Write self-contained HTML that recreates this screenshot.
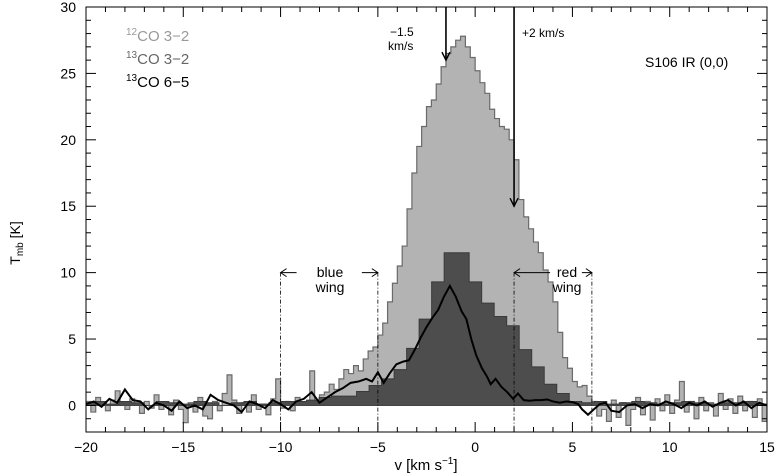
<!DOCTYPE html>
<html><head><meta charset="utf-8"><style>
body{margin:0;background:#fff}
svg{display:block;font-family:"Liberation Sans",sans-serif}
</style></head><body>
<svg id="chart" width="777" height="476" viewBox="0 0 777 476" xmlns="http://www.w3.org/2000/svg">
<g id="marks"></g>
<g id="axes"></g>
<text transform="translate(20,243) rotate(-90)" font-size="14" text-anchor="middle" fill="#000">T<tspan font-size="10" dy="3">mb</tspan><tspan dy="-3"> [K]</tspan></text>
<text x="426" y="470" font-size="15" text-anchor="middle">v  [km  s<tspan font-size="10" dy="-6">−1</tspan><tspan dy="6">]</tspan></text>
<g font-size="15">
<text x="126" y="41" fill="#999"><tspan font-size="10" dy="-6">12</tspan><tspan dy="6">CO 3−2</tspan></text>
<text x="126" y="64" fill="#666"><tspan font-size="10" dy="-6">13</tspan><tspan dy="6">CO 3−2</tspan></text>
<text x="126" y="87" fill="#000"><tspan font-size="10" dy="-6">13</tspan><tspan dy="6">CO 6−5</tspan></text>
</g>
<text x="645" y="67" font-size="14" fill="#000">S106 IR (0,0)</text>
<text x="390" y="36" font-size="12">−1.5</text>
<text x="388" y="50" font-size="12">km/s</text>
<text x="522" y="37" font-size="12">+2 km/s</text>
<text x="330" y="277" font-size="14" text-anchor="middle">blue</text>
<text x="330" y="292" font-size="14" text-anchor="middle">wing</text>
<text x="567" y="277" font-size="14" text-anchor="middle">red</text>
<text x="567" y="292" font-size="14" text-anchor="middle">wing</text>
</svg>
<script>
const co12Start=-20, co12Width=0.25;
const co12Values=[0.3,-0.5,0.6,0.1,-0.4,0.4,1.1,0.2,-0.3,0.5,0.1,-0.6,0.3,-0.2,0.8,-0.3,0.2,-0.7,0.4,-0.3,-1.3,0.2,-0.5,0.6,-0.8,-1.0,0.3,-0.4,0.9,2.3,0.4,-0.6,0.2,-0.5,0.8,-0.3,0.1,-0.7,0.5,2.0,-0.2,0.3,-0.4,0.6,0.2,0.3,2.6,0.4,
0.8,1.0,1.6,1.2,2.0,2.7,2.4,3.0,2.6,3.5,4.1,4.4,5.3,6.2,7.8,9.2,10.5,12,14.8,17.5,19.5,21,22.5,23,24.2,25.5,26.5,27,27.5,27.8,27,26.2,25.2,24.3,23.5,22.3,21.6,21,20.8,20,18.5,15.5,14.2,13.3,12.3,11.5,10.2,9.3,7.8,5.5,3.6,2.8,1.8,1.4,1.5,0.7,0.3,
-0.8,-0.3,-1.2,0.4,-0.9,0.2,-1.5,-0.3,0.6,-0.7,0.3,-1.1,0.5,-0.4,0.8,-0.6,0.4,1.8,-0.5,0.3,-1.0,0.6,-0.4,0.2,-0.8,0.9,-0.3,0.5,-0.6,0.7,-0.4,0.3,-0.9,0.5,-1.2];
const co13Start=-20.24, co13Width=0.643;
const co13Values=[0.2,0.3,0.1,0.3,0.2,0.0,0.3,0.2,0.1,0.3,0.2,0.0,0.2,0.3,0.1,0.2,0.3,0.3,0.4,
0.6,0.7,0.7,1.05,1.5,2.0,2.7,4.3,6.5,9.3,11.5,11.5,9.3,7.7,6.7,6.0,4.2,2.9,1.6,0.9,0.3,
0.2,0.3,0.1,0.2,0.3,0.2,0.1,0.2,0.3,0.2,0.1,0.2,0.2,0.3,0.1];
const co65V=[-20,-19.6,-19.2,-18.8,-18.4,-18.0,-17.6,-17.2,-16.8,-16.4,-16,-15.6,-15.2,-14.8,-14.4,-14,-13.6,-13.2,-12.8,-12.4,-12,-11.6,-11.2,-10.8,-10.4,-10,-9.6,-9.2,-8.8,-8.4,-8.0,
-7.6,-7.2,-6.8,-6.4,-6.0,-5.6,-5.3,-5.0,-4.7,-4.4,-4.05,-3.7,-3.4,-3.1,-2.8,-2.5,-2.2,-1.9,-1.6,-1.3,-1.0,-0.7,-0.45,-0.2,0.05,0.35,0.6,0.8,1.05,1.35,1.65,1.95,2.2,2.5,2.8,3.1,3.4,3.7,4.0,4.35,4.7,5.0,5.3,5.5,5.8,6.1,6.4,6.7,7.0,7.4,7.8,8.2,8.6,9.0,9.4,9.8,10.2,10.6,11,11.4,11.8,12.2,12.6,13,13.4,13.8,14.2,14.6,15];
const co65T=[0.1,0.3,-0.1,0.5,0.2,1.2,0.4,0.3,-0.3,0.2,0.0,-0.4,0.3,-0.2,0.0,-0.3,0.8,0.4,0.2,0.0,-0.5,0.3,0.1,-0.2,0.4,0.1,-0.3,0.3,0.5,1.0,0.2,
0.6,1.0,1.3,1.7,1.8,2.0,1.8,2.5,1.7,2.4,3.1,3.3,3.4,4.2,5.1,5.9,6.6,7.2,8.2,9.0,8.2,7.1,6.5,5.0,3.8,2.8,2.2,1.6,2.0,1.4,1.0,0.5,0.9,0.4,0.35,0.4,0.4,0.45,0.3,0.2,0.3,0.25,0.1,-0.3,-0.7,-0.3,0.1,0.2,-0.4,-0.5,0.0,0.1,-0.2,0.1,0.0,0.3,0.1,-0.2,0.2,0.0,0.3,-0.1,0.2,0.4,0.0,0.3,-0.2,0.2,0.0];
const xTicks=[-20,-15,-10,-5,0,5,10,15];
const yTicks=[0,5,10,15,20,25,30];
const wingLines=[-10,-5,2,6];

const X0=86,X1=767,Y0=432,Y1=7,vmin=-20,vmax=15,tmin=-2,tmax=30;
const sx=v=>X0+(v-vmin)/(vmax-vmin)*(X1-X0);
const sy=t=>Y0-(t-tmin)/(tmax-tmin)*(Y0-Y1);
const NS="http://www.w3.org/2000/svg";
const marks=document.getElementById('marks'), axes=document.getElementById('axes');
function mk(tag,attrs,parent){const e=document.createElementNS(NS,tag);for(const k in attrs)e.setAttribute(k,attrs[k]);parent.appendChild(e);return e;}
function histPath(start,w,vals){let d='M'+sx(start)+','+sy(0);vals.forEach((t,i)=>{const a=sx(start+i*w),b=sx(start+(i+1)*w);d+='L'+a+','+sy(t)+'L'+b+','+sy(t);});d+='L'+sx(start+vals.length*w)+','+sy(0)+'Z';return d;}
const clip=mk('clipPath',{id:'pc'},marks);mk('rect',{x:X0,y:Y1,width:X1-X0,height:Y0-Y1},clip);
const g=mk('g',{'clip-path':'url(#pc)'},marks);
const h12=mk('path',{d:histPath(co12Start,co12Width,co12Values),fill:'#b3b3b3',stroke:'#6a6a6a','stroke-width':1.2},g);


const h13=mk('path',{d:histPath(co13Start,co13Width,co13Values),fill:'#4d4d4d',stroke:'#3a3a3a','stroke-width':1},g);


mk('line',{x1:X0,x2:X1,y1:sy(0),y2:sy(0),stroke:'#444','stroke-width':1},g);
const ln=mk('polyline',{points:co65V.map((v,i)=>sx(v)+','+sy(co65T[i])).join(' '),fill:'none',stroke:'#000','stroke-width':2},g);


wingLines.forEach(v=>{const l=mk('line',{x1:sx(v),x2:sx(v),y1:sy(10),y2:Y0,stroke:'#000','stroke-width':0.8,'stroke-dasharray':'4,2,1,2'},marks);

});
// wing arrows
function arrow(xa,xb,y,name){const l=mk('line',{x1:xa,x2:xb,y1:y,y2:y,stroke:'#000','stroke-width':1},marks);

}
const wy=sy(10);
arrow(sx(-10),sx(-10)+16,wy,'blue-wing-arrow-left');arrow(sx(-5)-16,sx(-5),wy,'blue-wing-arrow-right');
arrow(sx(2),sx(2)+36,wy,'red-wing-arrow-left');arrow(sx(6)-10,sx(6),wy,'red-wing-arrow-right');
[[sx(-10),1],[sx(-5),-1],[sx(2),1],[sx(6),-1]].forEach(([x,d])=>{mk('path',{d:`M${x+d*6},${wy-4}L${x},${wy}L${x+d*6},${wy+4}`,fill:'none',stroke:'#000'},marks);});
// velocity arrows
[[-1.5,26],[2,15]].forEach(([v,t])=>{const x=sx(v),y=sy(t);const a=mk('line',{x1:x,x2:x,y1:Y1,y2:y,stroke:'#000','stroke-width':1.6},marks);


mk('path',{d:`M${x-4},${y-8}L${x},${y}L${x+4},${y-8}`,fill:'none',stroke:'#000','stroke-width':1.4},marks);});
// axes frame
const fr=mk('rect',{x:X0,y:Y1,width:X1-X0,height:Y0-Y1,fill:'none',stroke:'#000','stroke-width':1},axes);


for(let v=vmin;v<=vmax;v++){const maj=v%5===0,x=sx(v),L=maj?10:5;
mk('line',{x1:x,x2:x,y1:Y0,y2:Y0-L,stroke:'#000'},axes);mk('line',{x1:x,x2:x,y1:Y1,y2:Y1+L,stroke:'#000'},axes);}
for(let t=tmin;t<=tmax;t++){const maj=t%5===0,y=sy(t),L=maj?10:5;
mk('line',{x1:X0,x2:X0+L,y1:y,y2:y,stroke:'#000'},axes);mk('line',{x1:X1,x2:X1-L,y1:y,y2:y,stroke:'#000'},axes);}
xTicks.forEach(v=>{const t=mk('text',{x:sx(v),y:452,'font-size':14,'text-anchor':'middle',fill:'#000'},axes);t.textContent=String(v).replace('-','−');

});
yTicks.forEach(v=>{const t=mk('text',{x:X0-10,y:sy(v)+5,'font-size':14,'text-anchor':'end',fill:'#000'},axes);t.textContent=v;

});
</script>
</body></html>
